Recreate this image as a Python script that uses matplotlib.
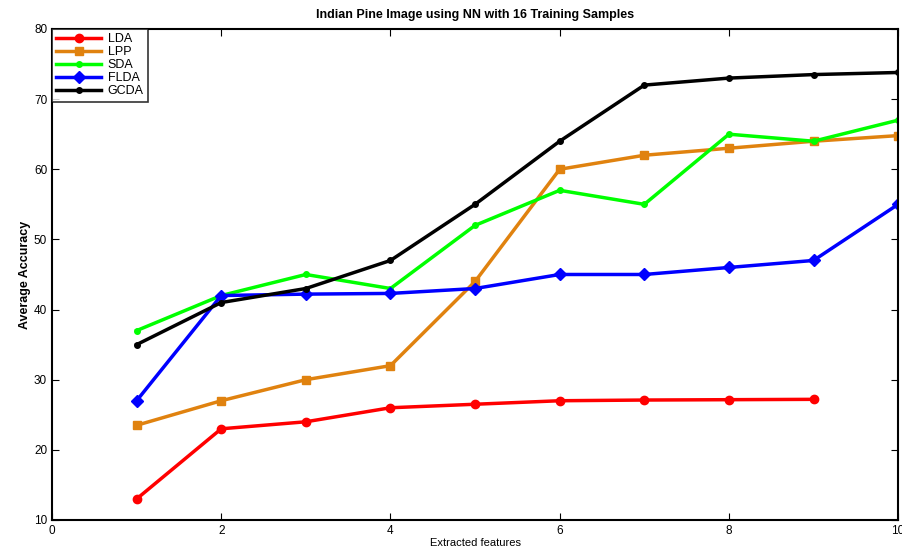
import numpy as np
import matplotlib
matplotlib.use('Agg')
import matplotlib.pyplot as plt

plt.rcParams['font.family'] = ['Liberation Sans', 'DejaVu Sans']

x = np.arange(1, 11)
lda = [13, 23, 24, 26, 26.5, 27, 27.1, 27.15, 27.2]
lpp = [23.5, 27, 30, 32, 44, 60, 62, 63, 64, 64.8]
sda = [37, 42, 45, 43, 52, 57, 55, 65, 64, 67]
flda = [27, 42, 42.2, 42.3, 43, 45, 45, 46, 47, 55]
gcda = [35, 41, 43, 47, 55, 64, 72, 73, 73.5, 73.8]

fig = plt.figure(figsize=(9.03, 5.47), dpi=100)
ax = fig.add_axes([0.0576, 0.0494, 0.937, 0.8976])

ax.plot(x[:9], lda, '-o', color='red', lw=2.5, ms=6, label='LDA')
ax.plot(x, lpp, '-s', color='#e0820f', lw=2.5, ms=6, label='LPP')
ax.plot(x, sda, '-o', color='#00ff00', lw=2.5, ms=4, label='SDA')
ax.plot(x, flda, '-D', color='blue', lw=2.5, ms=6, label='FLDA')
ax.plot(x, gcda, '-o', color='black', lw=2.5, ms=4, label='GCDA')

ax.set_xlim(0, 10)
ax.set_ylim(10, 80)
ax.set_xticks([0, 2, 4, 6, 8, 10])
ax.set_yticks(np.arange(10, 81, 10))
ax.tick_params(direction='in', top=True, right=True, labelsize=8.5, length=5)
for s in ax.spines.values():
    s.set_linewidth(1.5)

ax.set_title('Indian Pine Image using NN with 16 Training Samples', fontsize=9, fontweight='bold', pad=8)
ax.set_xlabel('Extracted features', fontsize=8, labelpad=1)
ax.set_ylabel('Average Accuracy', fontsize=9, fontweight='bold', labelpad=2)

leg = ax.legend(loc='upper left', fontsize=9, fancybox=False, edgecolor='black',
                borderaxespad=0, handlelength=3.6, labelspacing=0.08, handletextpad=0.5,
                borderpad=0.35)
leg.get_frame().set_linewidth(1.2)

fig.savefig('out.png')
